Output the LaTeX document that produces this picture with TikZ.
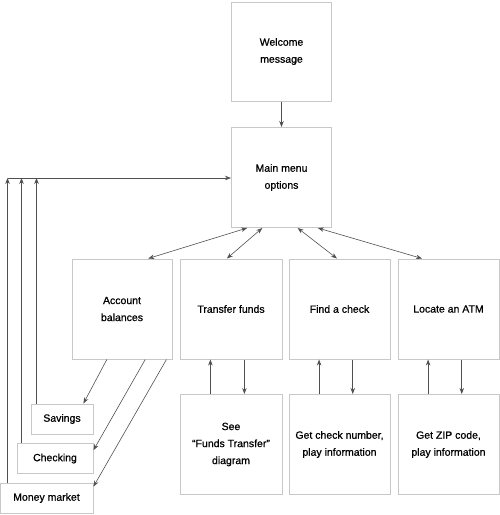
\documentclass[tikz,border=0pt]{standalone}
\usepackage{fontspec}
\setmainfont{Liberation Sans}[FakeBold=0.7]
\usepackage{tikz}
\usetikzlibrary{arrows.meta,positioning,calc}
\definecolor{boxline}{RGB}{200,200,200}
\definecolor{arrowgray}{RGB}{80,80,80}

\begin{document}
\begin{tikzpicture}[x=1pt, y=-1pt,
    box/.style={draw=boxline, line width=1pt, fill=white, align=center,
                inner sep=2pt, font=\fontsize{10.5}{17}\selectfont},
    bigbox/.style={box, minimum width=100pt, minimum height=100pt},
    smallbox/.style={box, minimum height=30pt},
    arr/.style={draw=arrowgray, line width=0.6pt, -{Stealth[length=6pt,width=4.5pt]}},
    dbl/.style={arr, {Stealth[length=6pt,width=4.5pt]}-{Stealth[length=6pt,width=4.5pt]}}]
  \useasboundingbox (0,0) rectangle (500,515);
  % top of the call flow
  \node[bigbox, minimum height=99pt] (welcome) at (281.5,51.5) {Welcome\\message};
  \node[bigbox] (menu) at (281.5,177.5) {Main menu\\options};
  % menu choices
  \node[bigbox] (acct) at (122,309) {Account\\balances};
  \node[bigbox, minimum width=102pt] (xfer) at (231,309) {Transfer funds};
  \node[bigbox, minimum width=101pt] (find) at (339.5,309) {Find a check};
  \node[bigbox, minimum width=101pt] (atm) at (448.5,309) {Locate an ATM};
  % second level
  \node[bigbox, minimum width=102pt] (seexfer) at (231,444.5) {See\\``Funds Transfer''\\diagram};
  \node[bigbox, minimum width=101pt] (checknum) at (339.5,444.5) {Get check number,\\play information};
  \node[bigbox, minimum width=101pt] (zipcode) at (448.5,444.5) {Get ZIP code,\\play information};
  % account types
  \node[smallbox, minimum width=62pt] (savings) at (62,419) {Savings};
  \node[smallbox, minimum width=76pt] (checking) at (55,458.5) {Checking};
  \node[smallbox, minimum width=93pt] (money) at (46.5,498) {Money market};
  \coordinate (back) at (8,178);
  \coordinate (savtop) at ($(savings.north west)+(6,0)$);
  \coordinate (chktop) at ($(checking.north west)+(5,0)$);
  \coordinate (mmtop) at ($(money.north west)+(8,0)$);

  \draw[arr] (welcome) -- (menu);
  \draw[dbl] ($(menu.south west)!0.16!(menu.south east)$) -- ($(acct.north west)!0.76!(acct.north east)$);
  \draw[dbl] ($(menu.south west)!0.31!(menu.south east)$) -- ($(xfer.north west)!0.46!(xfer.north east)$);
  \draw[dbl] ($(menu.south west)!0.66!(menu.south east)$) -- ($(find.north west)!0.475!(find.north east)$);
  \draw[dbl] ($(menu.south west)!0.86!(menu.south east)$) -- ($(atm.north west)!0.24!(atm.north east)$);

  \foreach \up/\dn in {xfer/seexfer, find/checknum, atm/zipcode} {
    \draw[arr] ($(\dn.north west)!0.3!(\dn.north east)$) -- ($(\up.south west)!0.3!(\up.south east)$);
    \draw[arr] ($(\up.south west)!0.63!(\up.south east)$) -- ($(\dn.north west)!0.63!(\dn.north east)$);
  }

  \draw[arr] ($(acct.south west)!0.35!(acct.south east)$) -- ($(savings.north west)!0.84!(savings.north east)$);
  \draw[arr] ($(acct.south west)!0.73!(acct.south east)$) -- ($(checking.north east)!0.23!(checking.south east)$);
  \draw[arr] ($(acct.south west)!0.94!(acct.south east)$) -- ($(money.north east)!0.13!(money.south east)$);

  % back to the main menu
  \draw[arr] (mmtop) -- (mmtop |- back);
  \draw[arr] (chktop) -- (chktop |- back);
  \draw[arr] (savtop) -- (savtop |- back);
  \draw[arr] (back) -- (back -| menu.west);
\end{tikzpicture}
\end{document}
